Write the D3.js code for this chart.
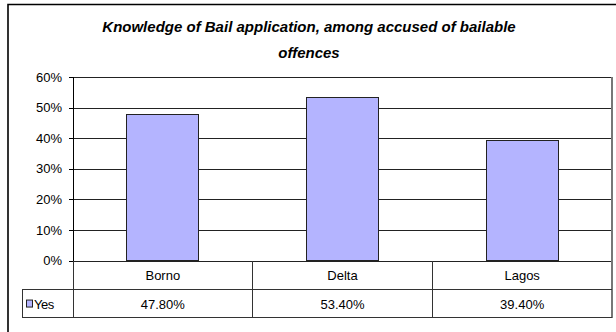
<!DOCTYPE html>
<html>
<head>
<meta charset="utf-8">
<script src="https://cdn.jsdelivr.net/npm/d3@7"></script>
<style>
  html, body { margin: 0; padding: 0; background: #fff; }
  svg { display: block; font-family: "Liberation Sans", Arial, sans-serif; }
</style>
</head>
<body>
<svg id="chart" width="616" height="332"></svg>
<script>
const titleLines = ["Knowledge of Bail application, among accused of bailable", "offences"];
const categories = ["Borno", "Delta", "Lagos"];
const seriesName = "Yes";
const yesValues = [0.478, 0.534, 0.394];
const yesLabels = ["47.80%", "53.40%", "39.40%"];
const yTicks = [0, 0.1, 0.2, 0.3, 0.4, 0.5, 0.6];

const svg = d3.select("#chart");
const plot = { left: 73, right: 612, top: 77, bottom: 260.5 };
const rowH = 28.7;
const legendLeft = 22;
const fs = 13;

// outer frame (top and left visible)
svg.append("path")
  .attr("d", `M8,332 L8,4.5 L616,4.5`)
  .attr("fill", "none").attr("stroke", "#000").attr("stroke-width", 1.6);

// title
svg.append("g").selectAll("text").data(titleLines).join("text")
  .attr("x", 309).attr("y", (d, i) => 32 + i * 26)
  .attr("text-anchor", "middle")
  .attr("font-size", 15).attr("font-weight", "bold").attr("font-style", "italic")
  .attr("fill", "#000")
  .text(d => d);

const x = d3.scaleBand().domain(categories).range([plot.left, plot.right])
  .paddingInner(0.6).paddingOuter(0.3);
const xCell = d3.scaleBand().domain(categories).range([plot.left, plot.right]);
const y = d3.scaleLinear().domain([0, 0.6]).range([plot.bottom, plot.top]);

// gridlines
svg.append("g")
  .attr("transform", `translate(${plot.left},0)`)
  .call(d3.axisLeft(y).tickValues(yTicks).tickSize(-(plot.right - plot.left)).tickFormat(""))
  .call(g => g.select(".domain").remove())
  .call(g => g.selectAll("line").attr("stroke", "#222").attr("shape-rendering", "crispEdges"));

// bars
svg.append("g").selectAll("rect").data(categories).join("rect")
  .attr("x", d => x(d))
  .attr("y", (d, i) => y(yesValues[i]))
  .attr("width", x.bandwidth())
  .attr("height", (d, i) => y(0) - y(yesValues[i]))
  .attr("fill", "#B4B4FF")
  .attr("stroke", "#222").attr("stroke-width", 1)
  .attr("shape-rendering", "crispEdges");

// y axis
svg.append("g")
  .attr("transform", `translate(${plot.left},0)`)
  .call(d3.axisLeft(y).tickValues(yTicks).tickSize(4).tickPadding(7).tickFormat(d3.format(".0%")))
  .call(g => g.select(".domain").attr("stroke", "#000").attr("shape-rendering", "crispEdges"))
  .call(g => g.selectAll("line").attr("stroke", "#000").attr("shape-rendering", "crispEdges"))
  .call(g => g.selectAll("text").attr("font-size", fs).attr("fill", "#000")
    .attr("font-family", "'Liberation Sans', Arial, sans-serif"));

// plot right border
svg.append("line")
  .attr("x1", plot.right).attr("x2", plot.right)
  .attr("y1", plot.top).attr("y2", plot.bottom + 2 * rowH)
  .attr("stroke", "#777").attr("stroke-width", 2);

// data table
const tbl = svg.append("g").attr("shape-rendering", "crispEdges");
const tblStroke = "#333";
tbl.append("line").attr("x1", legendLeft).attr("x2", plot.right)
  .attr("y1", plot.bottom + rowH).attr("y2", plot.bottom + rowH).attr("stroke", tblStroke);
tbl.append("line").attr("x1", legendLeft).attr("x2", plot.right)
  .attr("y1", plot.bottom + 2 * rowH).attr("y2", plot.bottom + 2 * rowH).attr("stroke", tblStroke);
tbl.selectAll("line.v").data(categories).join("line").attr("class", "v")
  .attr("x1", d => xCell(d)).attr("x2", d => xCell(d))
  .attr("y1", plot.bottom).attr("y2", plot.bottom + 2 * rowH)
  .attr("stroke", tblStroke);
tbl.append("line").attr("x1", legendLeft).attr("x2", legendLeft)
  .attr("y1", plot.bottom + rowH).attr("y2", plot.bottom + 2 * rowH).attr("stroke", tblStroke);

// category labels
svg.append("g").selectAll("text").data(categories).join("text")
  .attr("x", d => xCell(d) + xCell.bandwidth() / 2)
  .attr("y", plot.bottom + rowH / 2 + 5)
  .attr("text-anchor", "middle").attr("font-size", fs).attr("fill", "#000")
  .text(d => d);

// value labels
svg.append("g").selectAll("text").data(categories).join("text")
  .attr("x", d => xCell(d) + xCell.bandwidth() / 2)
  .attr("y", plot.bottom + rowH * 1.5 + 5)
  .attr("text-anchor", "middle").attr("font-size", fs).attr("fill", "#000")
  .text((d, i) => yesLabels[i]);

// legend key
svg.append("rect")
  .attr("x", 26.5).attr("y", plot.bottom + rowH * 1.5 - 3.5)
  .attr("width", 6).attr("height", 7)
  .attr("fill", "#B4B4FF").attr("stroke", "#222").attr("stroke-width", 1);
svg.append("text")
  .attr("x", 34).attr("y", plot.bottom + rowH * 1.5 + 5)
  .attr("font-size", fs).attr("fill", "#000")
  .attr("letter-spacing", -0.5)
  .text(seriesName);
</script>
</body>
</html>
